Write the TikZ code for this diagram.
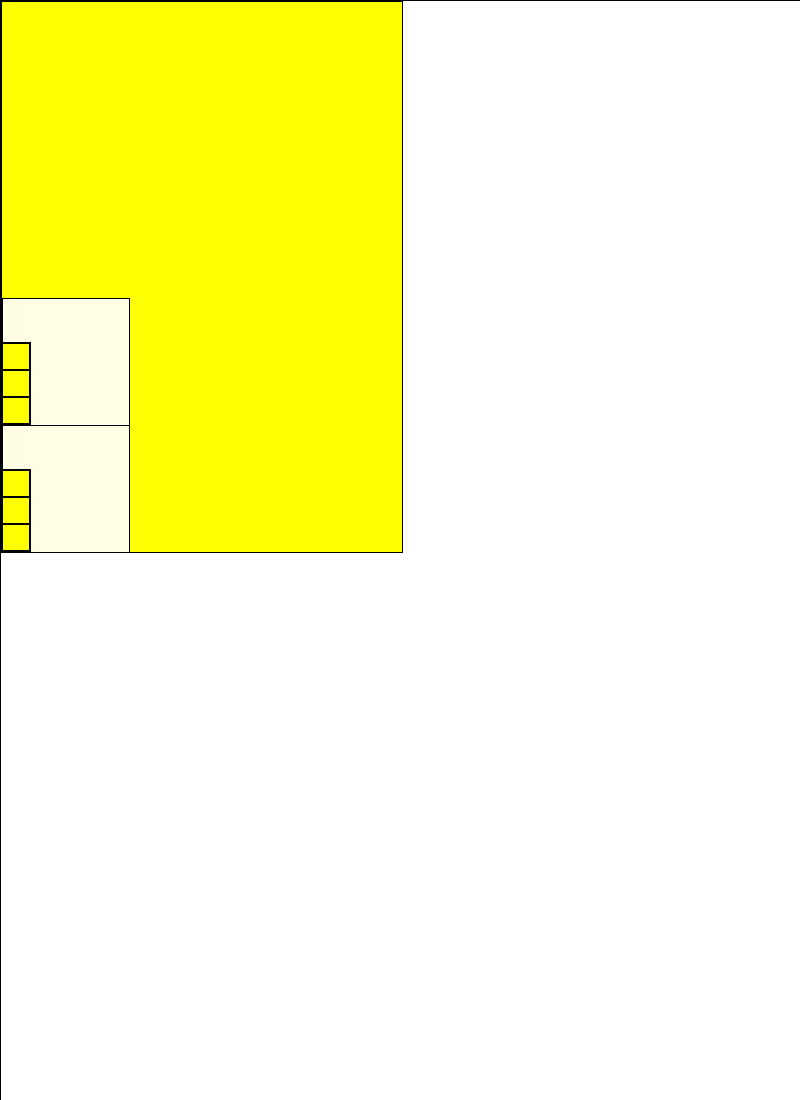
\documentclass[tikz,border=0pt]{standalone}
\definecolor{paleyel}{HTML}{FFFDE5}
\definecolor{pureyel}{HTML}{FFFF00}
\tikzset{
  box/.style={draw=black, line width=1pt, inner sep=0pt, outer sep=0pt, anchor=north west},
  bigbox/.style={box, fill=pureyel, minimum width=401pt, minimum height=551pt},
  panel/.style={box, fill=paleyel, minimum width=127pt, minimum height=127pt},
  cell/.style={box, fill=pureyel, line width=1.3pt, minimum width=28pt, minimum height=27pt},
  frame/.style={draw=black, line width=1.5pt}
}
\begin{document}
\begin{tikzpicture}[x=1pt,y=-1pt]
\useasboundingbox (0,0) rectangle (800,1100);
\node[bigbox] (main) at (1.5,1) {};
\node[panel] (p1) at (2,298) {};
\node[panel] (p2) at (2,425) {};
\node[cell] (a1) at (2,343) {};
\node[cell] (a2) at (2,370) {};
\node[cell] (a3) at (2,397) {};
\node[cell] (b1) at (2,470) {};
\node[cell] (b2) at (2,497) {};
\node[cell] (b3) at (2,524) {};
\coordinate (tl) at (0.5,0.5);
\coordinate (tr) at (800,0.5);
\coordinate (bl) at (0.5,1100);
\draw[frame] (tr) -- (tl) -- (bl);
\end{tikzpicture}
\end{document}
